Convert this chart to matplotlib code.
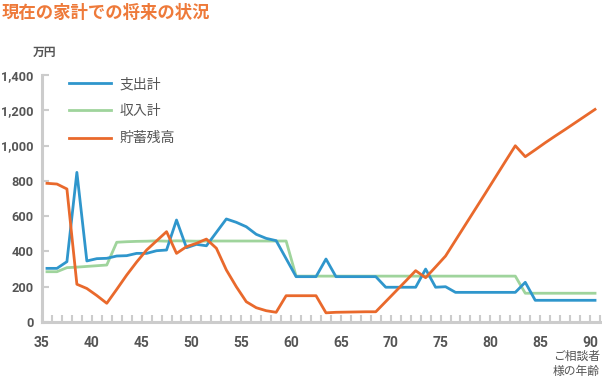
import numpy as np
import matplotlib.pyplot as plt
from matplotlib.ticker import FuncFormatter, MultipleLocator

plt.rcParams['font.family'] = ['Roboto', 'Noto Sans CJK JP', 'DejaVu Sans']

# 年齢（各年の値）
ages = list(range(35, 91))

# 支出計（万円）
expense = [304, 304, 342, 848, 346, 359, 361, 374, 376, 389,
           389, 404, 408, 578, 421, 440, 432, 508, 584, 565,
           540, 497, 474, 461, 359, 257, 257, 257, 357, 257,
           257, 257, 257, 257, 197, 197, 197, 197, 300, 197,
           200, 168, 168, 168, 168, 168, 168, 168, 225, 123,
           123, 123, 123, 123, 123, 123]
# 収入計
income = [285, 285, 308, 311, 315, 319, 323, 452, 455, 457,
          458, 460, 458, 460, 459, 458, 459, 459, 459, 459,
          459, 459, 459, 459, 459, 260, 260, 260, 260, 260,
          260, 260, 260, 260, 260, 260, 260, 260, 260, 260,
          260, 260, 260, 260, 260, 260, 260, 260, 163, 163,
          163, 163, 163, 163, 163, 163]
# 貯蓄残高
savings = [786, 782, 754, 214, 190, 150, 106, 185, 266, 340,
           408, 460, 512, 389, 427, 446, 470, 418, 295, 200,
           115, 81, 64, 55, 149, 149, 149, 149, 52, 55,
           56, 57, 58, 58, 116, 174, 232, 291, 251, 312,
           374, 463, 552, 641, 730, 820, 910, 999, 937, 976,
           1016, 1054, 1091, 1129, 1167, 1205]

labels = ['支出計', '収入計', '貯蓄残高']
colors = ['#2f96cc', '#9fd49c', '#e9692c']

fig = plt.figure(figsize=(6.02, 3.8), dpi=100)
ax = fig.add_axes([42 / 602, 58 / 380, 558 / 602, 247 / 380])

x = np.array(ages) + 0.5
ax.plot(x, income, color=colors[1], lw=2.0, label=labels[1], zorder=2)
ax.plot(x, expense, color=colors[0], lw=2.0, label=labels[0], zorder=3)
ax.plot(x, savings, color=colors[2], lw=2.0, label=labels[2], zorder=4)

ax.set_xlim(35, 91)
ax.set_ylim(0, 1400)

for s in ['top', 'right']:
    ax.spines[s].set_visible(False)
for s in ['left', 'bottom']:
    ax.spines[s].set_color('#cccccc')
    ax.spines[s].set_linewidth(2.2)

ax.xaxis.set_major_locator(MultipleLocator(5))
ax.xaxis.set_minor_locator(MultipleLocator(1))
ax.yaxis.set_major_locator(MultipleLocator(200))
ax.yaxis.set_major_formatter(FuncFormatter(lambda v, p: f'{int(v):,}'))
ax.tick_params(axis='both', which='both', direction='in', color='#cccccc',
               width=1.5, length=5, labelcolor='#555555')
ax.tick_params(axis='x', which='major', pad=10, labelsize=10)
ax.tick_params(axis='y', which='major', pad=6, labelsize=9.2)
for t in ax.get_xticklabels() + ax.get_yticklabels():
    t.set_fontweight('bold')

# 凡例
h = ax.get_legend_handles_labels()
order = [1, 0, 2]
ax.legend([h[0][i] for i in order], [h[1][i] for i in order],
          loc='upper left', bbox_to_anchor=(69 / 602, 1 - 77 / 380),
          bbox_transform=fig.transFigure, frameon=False, fontsize=10,
          handlelength=3.0, handletextpad=0.65, labelspacing=0.95,
          borderpad=0, borderaxespad=0, labelcolor='#555555')

fig.text(2 / 602, 1 - 13 / 380, '現在の家計での将来の状況', color='#ee7a3a',
         fontsize=12.5, fontweight='bold', va='center', ha='left',
         family='Noto Sans CJK JP')
fig.text(45 / 602, 1 - 52 / 380, '万円', color='#555555', fontsize=8.5,
         fontweight='bold', va='center', ha='center', family='Noto Sans CJK JP')
fig.text(600 / 602, 1 - 364 / 380, 'ご相談者\n様の年齢', color='#555555',
         fontsize=8.5, va='center', ha='right', linespacing=1.3,
         family='Noto Sans CJK JP')

fig.savefig('out.png', dpi=100)
